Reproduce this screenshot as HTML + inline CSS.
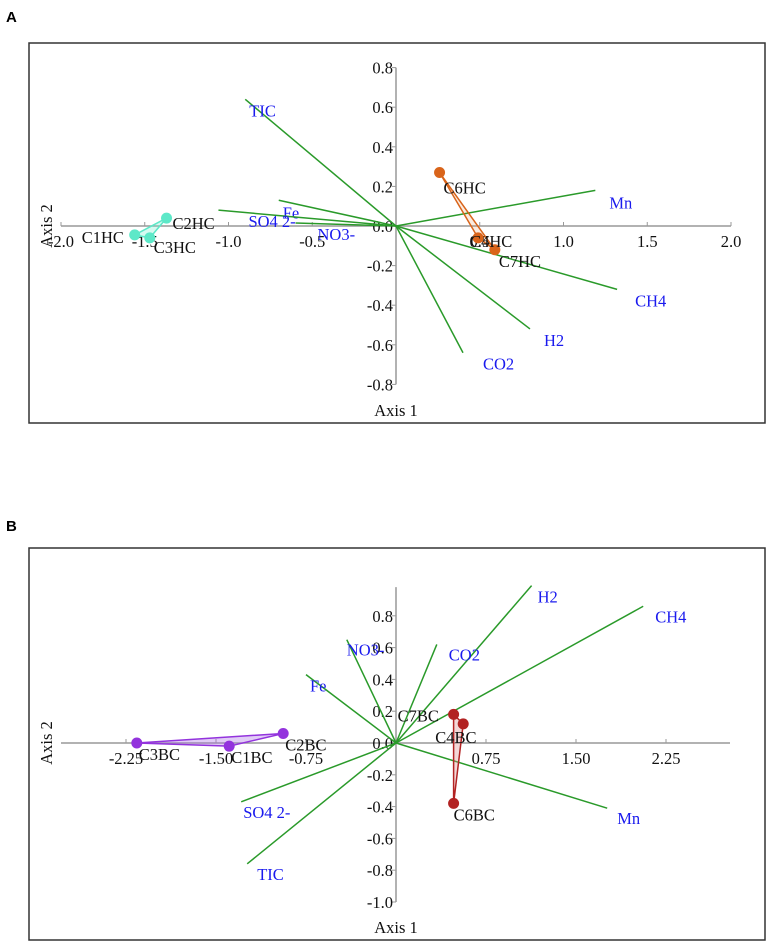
<!DOCTYPE html>
<html><head><meta charset="utf-8"><style>
html,body{margin:0;padding:0;background:#fff;width:767px;height:943px;overflow:hidden}
svg text{font-family:"Liberation Serif",serif}
</style></head><body>
<svg id="fig" width="767" height="943" xmlns="http://www.w3.org/2000/svg">
<text x="6" y="22" font-weight="bold" font-size="15" style="font-family:'Liberation Sans',sans-serif">A</text>
<rect x="29" y="43" width="736" height="380" fill="none" stroke="#333" stroke-width="1.5"/>
<text x="6" y="531" font-weight="bold" font-size="15" style="font-family:'Liberation Sans',sans-serif">B</text>
<rect x="29" y="548" width="736" height="392" fill="none" stroke="#333" stroke-width="1.5"/>
<g id="pa"></g>
<g id="pb"></g>
</svg>
<script>
// Panel A data
const aVarNames = ["TIC","Fe","SO4 2-","NO3-","Mn","CH4","H2","CO2"];
const aVarX = [-0.90,-0.70,-1.06,-0.60,1.19,1.32,0.80,0.40];
const aVarY = [0.64,0.13,0.08,0.015,0.18,-0.32,-0.52,-0.64];
const aSiteNames = ["C1HC","C2HC","C3HC","C4HC","C6HC","C7HC"];
const aSiteX = [-1.56,-1.37,-1.47,0.49,0.26,0.59];
const aSiteY = [-0.045,0.04,-0.06,-0.06,0.27,-0.12];
const aXTicks = [-2.0,-1.5,-1.0,-0.5,0.5,1.0,1.5,2.0];
const aYTicks = [0.8,0.6,0.4,0.2,0.0,-0.2,-0.4,-0.6,-0.8];
// Panel B data
const bVarNames = ["H2","CH4","CO2","NO3-","Fe","SO4 2-","TIC","Mn"];
const bVarX = [1.13,2.06,0.34,-0.41,-0.75,-1.29,-1.24,1.76];
const bVarY = [0.99,0.86,0.62,0.65,0.43,-0.37,-0.76,-0.41];
const bSiteNames = ["C1BC","C2BC","C3BC","C4BC","C6BC","C7BC"];
const bSiteX = [-1.39,-0.94,-2.16,0.56,0.48,0.48];
const bSiteY = [-0.02,0.06,0.0,0.12,-0.38,0.18];
const bXTicks = [-2.25,-1.50,-0.75,0.75,1.50,2.25];
const bYTicks = [0.8,0.6,0.4,0.2,0.0,-0.2,-0.4,-0.6,-0.8,-1.0];

const NS="http://www.w3.org/2000/svg";
const FS=16.5;
function mk(parent,tag,attrs,txt){const e=document.createElementNS(NS,tag);for(const k in attrs)e.setAttribute(k,attrs[k]);if(txt!==undefined)e.textContent=txt;parent.appendChild(e);return e;}

function draw(g,cfg){
  const sx=v=>cfg.x0+v*cfg.kx, sy=v=>cfg.y0-v*cfg.ky;
  let e;
  e=mk(g,'line',{x1:cfg.xa0,x2:cfg.xa1,y1:cfg.y0,y2:cfg.y0,stroke:'#999','stroke-width':1.5});
  
  
  e=mk(g,'line',{x1:cfg.x0,x2:cfg.x0,y1:sy(cfg.ya1),y2:sy(cfg.ya0),stroke:'#999','stroke-width':1.5});
  
  
  cfg.xt.forEach(v=>{
    mk(g,'line',{x1:sx(v),x2:sx(v),y1:cfg.y0,y2:cfg.y0-4,stroke:'#999'});
    e=mk(g,'text',{x:sx(v),y:cfg.y0+21,'text-anchor':'middle','font-size':FS,fill:'#111'},cfg.fmtX(v));
    
    
  });
  cfg.yt.forEach(v=>{
    mk(g,'line',{x1:cfg.x0,x2:cfg.x0-4,y1:sy(v),y2:sy(v),stroke:'#999'});
    e=mk(g,'text',{x:cfg.x0-3,y:sy(v)+6,'text-anchor':'end','font-size':FS,fill:'#111'},v.toFixed(1));
    
    
  });
  cfg.vn.forEach((n,i)=>{
    e=mk(g,'line',{x1:cfg.x0,y1:cfg.y0,x2:sx(cfg.vx[i]),y2:sy(cfg.vy[i]),stroke:'#2a9a2a','stroke-width':1.5});
    
    
    const o=cfg.vlo[i];
    e=mk(g,'text',{x:sx(cfg.vx[i])+o[0],y:sy(cfg.vy[i])+o[1],'font-size':FS,fill:'#1a1aee'},n);
    
    
  });
  cfg.groups.forEach(gr=>{
    const pts=gr.idx.map(i=>sx(cfg.sxv[i])+','+sy(cfg.syv[i])).join(' ');
    e=mk(g,'polygon',{points:pts,fill:gr.fill,stroke:gr.stroke,'stroke-width':1.5});
    
    
    gr.idx.forEach(i=>{
      e=mk(g,'circle',{cx:sx(cfg.sxv[i]),cy:sy(cfg.syv[i]),r:5.5,fill:gr.stroke});
      
      
    });
  });
  cfg.sn.forEach((n,i)=>{
    const o=cfg.slo[i];
    e=mk(g,'text',{x:sx(cfg.sxv[i])+o[0],y:sy(cfg.syv[i])+o[1],'font-size':FS,fill:'#111'},n);
    
    
  });
  e=mk(g,'text',{x:cfg.x0,y:cfg.axis1y,'text-anchor':'middle','font-size':FS,fill:'#111'},'Axis 1');
  
  
  e=mk(g,'text',{x:0,y:0,'text-anchor':'middle','font-size':FS,fill:'#111',transform:`translate(${cfg.axis2x},${cfg.y0}) rotate(-90)`},'Axis 2');
  
  
}

draw(document.getElementById('pa'),{
  x0:396,y0:226,kx:167.5,ky:198,xa0:61,xa1:731,ya0:-0.8,ya1:0.8,
  xt:aXTicks,yt:aYTicks,fmtX:v=>v.toFixed(1),
  vn:aVarNames,vx:aVarX,vy:aVarY,
  vlo:[[4,17],[4,18],[30,17],[22,17],[14,18],[18,17],[14,17],[20,17]],
  sn:aSiteNames,sxv:aSiteX,syv:aSiteY,
  slo:[[-53,8],[6,11],[4,15],[-8,9],[4,21],[4,17]],
  groups:[{idx:[0,1,2],fill:'rgba(120,240,210,0.3)',stroke:'#5de8c8'},{idx:[3,4,5],fill:'rgba(230,120,40,0.15)',stroke:'#d9641a'}],
  axis1y:416,axis2x:52
});
draw(document.getElementById('pb'),{
  x0:396,y0:743,kx:120,ky:159,xa0:61,xa1:730,ya0:-1.0,ya1:0.98,
  xt:bXTicks,yt:bYTicks,fmtX:v=>v.toFixed(2),
  vn:bVarNames,vx:bVarX,vy:bVarY,
  vlo:[[6,17],[12,16],[12,16],[0,16],[4,17],[2,16],[10,16],[10,16]],
  sn:bSiteNames,sxv:bSiteX,syv:bSiteY,
  slo:[[2,17],[2,17],[2,17],[-28,19],[0,17],[-56,7]],
  groups:[{idx:[0,1,2],fill:'rgba(170,110,230,0.35)',stroke:'#9333dd'},{idx:[3,4,5],fill:'rgba(220,140,140,0.35)',stroke:'#b22222'}],
  axis1y:933,axis2x:52
});
</script>
</body></html>
